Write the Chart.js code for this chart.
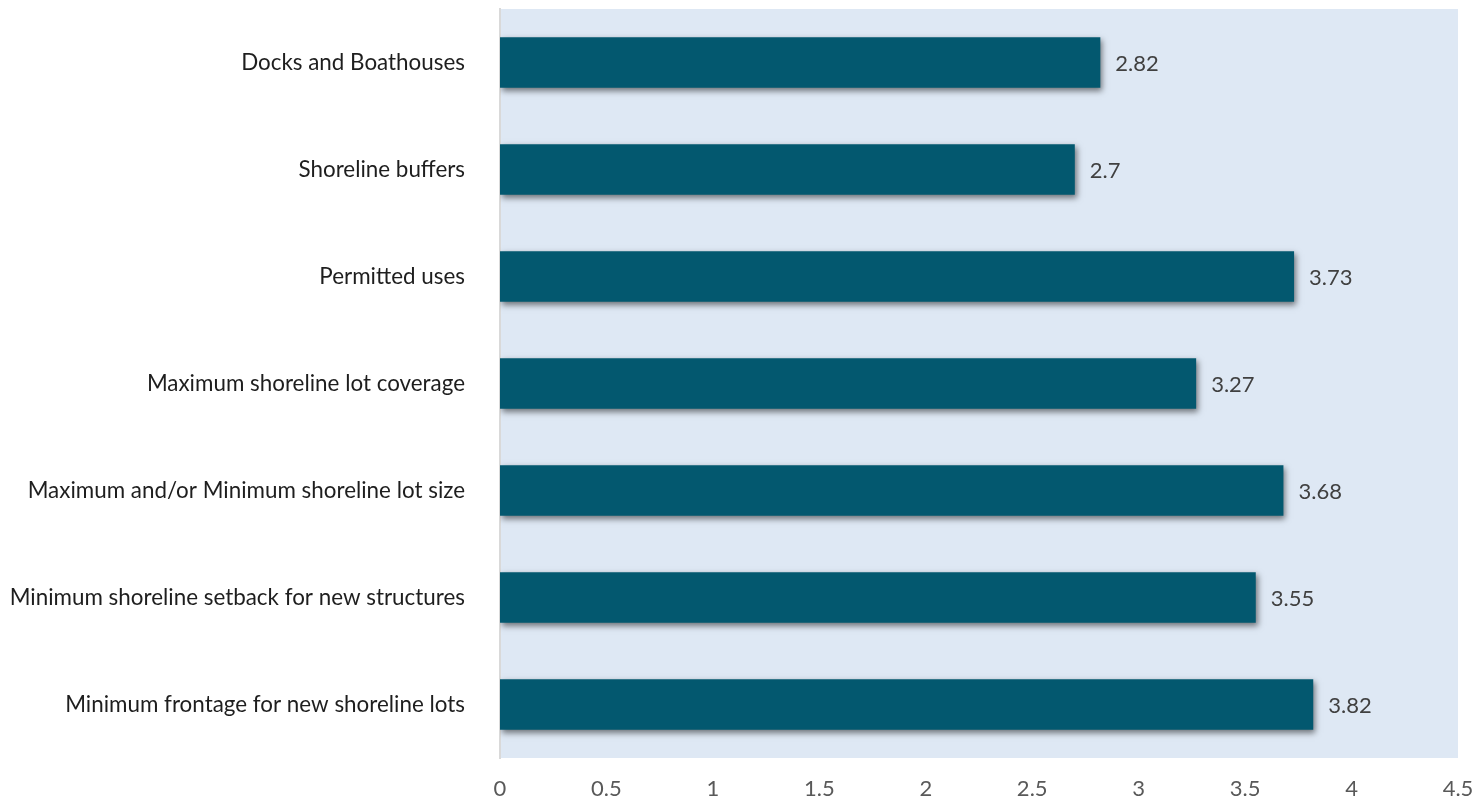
<!DOCTYPE html>
<html>
<head>
<meta charset="utf-8">
<script src="https://cdn.jsdelivr.net/npm/chart.js@4"></script>
<style>
html,body{margin:0;padding:0;background:#ffffff;}
#wrap{width:1480px;height:801px;}
</style>
</head>
<body>
<div id="wrap"><canvas id="c" width="1480" height="801"></canvas></div>
<script>
const categories = [
  "Docks and Boathouses",
  "Shoreline buffers",
  "Permitted uses",
  "Maximum shoreline lot coverage",
  "Maximum and/or Minimum shoreline lot size",
  "Minimum shoreline setback for new structures",
  "Minimum frontage for new shoreline lots"
];
const values = [2.82, 2.7, 3.73, 3.27, 3.68, 3.55, 3.82];
const xMin = 0, xMax = 4.5, xStep = 0.5;

const FONT = "Lato, 'Open Sans', 'Liberation Sans', sans-serif";

const plotBg = {
  id: 'plotBg',
  beforeDraw(chart) {
    const {ctx, chartArea: a} = chart;
    ctx.save();
    ctx.fillStyle = '#DEE8F4';
    ctx.fillRect(a.left, a.top, a.right - a.left, a.bottom - a.top);
    ctx.restore();
  }
};

const barShadow = {
  id: 'barShadow',
  beforeDatasetDraw(chart) {
    const ctx = chart.ctx;
    ctx.save();
    ctx.shadowColor = 'rgba(0,0,0,0.5)';
    ctx.shadowBlur = 6;
    ctx.shadowOffsetX = 2;
    ctx.shadowOffsetY = 3;
  },
  afterDatasetDraw(chart) {
    chart.ctx.restore();
  }
};

const valueLabels = {
  id: 'valueLabels',
  afterDatasetsDraw(chart) {
    const ctx = chart.ctx;
    const meta = chart.getDatasetMeta(0);
    ctx.save();
    ctx.font = '22px ' + FONT;
    ctx.fillStyle = '#404040';
    ctx.textAlign = 'left';
    ctx.textBaseline = 'middle';
    meta.data.forEach((bar, i) => {
      ctx.fillText(String(values[i]), bar.x + 15, bar.y + 1);
    });
    ctx.restore();
  }
};

new Chart(document.getElementById('c'), {
  type: 'bar',
  data: {
    labels: categories,
    datasets: [{
      data: values,
      backgroundColor: '#03586F',
      borderWidth: 0,
      categoryPercentage: 1.0,
      barPercentage: 0.47
    }]
  },
  options: {
    indexAxis: 'y',
    responsive: false,
    animation: false,
    devicePixelRatio: 1,
    layout: { padding: { top: 9, right: 22, bottom: 0, left: 0 } },
    plugins: { legend: { display: false }, tooltip: { enabled: false } },
    scales: {
      x: {
        min: xMin, max: xMax,
        ticks: {
          stepSize: xStep,
          color: '#595959',
          font: { size: 22, family: FONT },
          padding: 18,
          callback: (v) => String(v)
        },
        grid: { display: false, drawTicks: false },
        border: { display: false },
        afterFit(scale) {
          scale.height = 43;
          scale.paddingLeft = 0;
          scale.paddingRight = 0;
        }
      },
      y: {
        ticks: {
          color: '#1E1E1E',
          font: { size: 22.4, family: FONT },
          padding: 35
        },
        grid: { display: false, drawTicks: false },
        border: { display: true, color: '#D9D9D9', width: 2 },
        afterFit(scale) {
          scale.width = 500;
          scale.paddingTop = 0;
          scale.paddingBottom = 0;
        }
      }
    }
  },
  plugins: [plotBg, barShadow, valueLabels]
});
</script>
</body>
</html>
